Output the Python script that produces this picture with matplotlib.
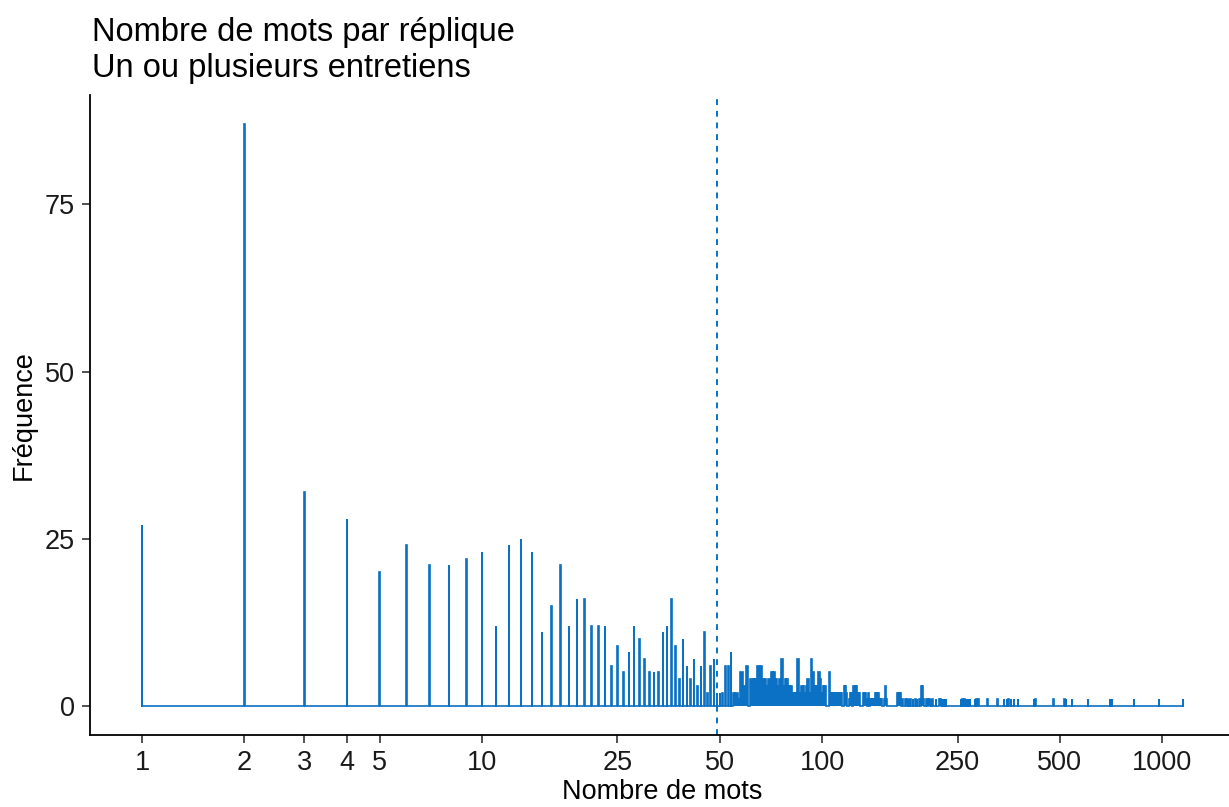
import numpy as np
import matplotlib
matplotlib.use("Agg")
import matplotlib.pyplot as plt

plt.rcParams['font.family'] = ['Liberation Sans', 'DejaVu Sans']

# nombre de mots (valeurs) et fréquence observée
mots = list(range(1, 103)) + [105, 106, 107, 108, 109, 110, 111, 112, 113, 114,
        116, 117, 118, 120, 121, 122, 124, 125, 126, 127, 128, 129, 132, 133, 134,
        135, 137, 139, 140, 141, 142, 143, 144, 145, 146, 147, 148, 149, 152, 153,
        155, 166, 167, 168, 169, 170, 172, 176, 178, 180, 182, 185, 188, 190, 193,
        196, 197, 199, 203, 205, 207, 209, 211, 216, 221, 223, 225, 228, 231, 256,
        259, 262, 265, 268, 272, 281, 284, 288, 306, 328, 343, 349, 353, 359, 366,
        376, 420, 424, 479, 516, 522, 543, 604, 703, 710, 827, 980, 1150]
freq = [27, 87, 32, 28, 20, 24, 21, 21, 22, 23,
        12, 24, 25, 23, 11, 15, 21, 12, 16, 16,
        12, 12, 12, 6, 9, 5, 8, 12, 10, 7,
        5, 5, 5, 11, 12, 16, 9, 4, 10, 6,
        4, 7, 3, 6, 11, 2, 6, 7, 2, 2,
        2, 6, 6, 8, 2, 2, 1, 5, 3, 6,
        0, 4, 4, 4, 6, 6, 4, 4, 3, 4,
        5, 5, 4, 3, 4, 7, 3, 4, 4, 3,
        3, 2, 2, 2, 7, 2, 3, 3, 2, 3,
        4, 2, 7, 5, 3, 3, 3, 5, 4, 2,
        3, 3] + [5, 2, 2, 2, 2, 2, 2, 2, 2, 2,
        3, 3, 2, 1, 2, 2, 3, 3, 3, 2, 2, 2, 2, 2, 2,
        1, 2, 1, 1, 1, 1, 2, 2, 2, 2, 1, 1, 1, 1, 3,
        1, 2, 2, 2, 2, 2, 1, 1, 1, 1, 1, 1, 1, 1, 1,
        3, 3, 1, 1, 1, 1, 1, 1, 1, 1, 1, 1, 1, 1, 1,
        1, 1, 1, 1, 1, 1, 1, 1, 1, 1, 1, 1, 1, 1, 1,
        1, 1, 1, 1, 1, 1, 1, 1, 1, 1, 1, 1, 1]
moyenne = 49

bleu = '#0A71C4'

fig = plt.figure(figsize=(12.29, 8.07), dpi=100)
# left spine at x=90 px, x range runs past the right edge
ax = fig.add_axes([90/1229, 72/807, 1145/1229, 640/807])

# path: narrow step around each value, baseline in between
# (thin spikes for small counts, touching steps where integers crowd together)
xs, ys = [1], [0]
for v, f in zip(mots, freq):
    if f == 0:
        continue
    if v < 55:
        a, b = v / 10 ** 0.0008, v * 10 ** 0.0008
    else:
        a, b = v - 0.5, v + 0.5
    xs += [a, a, b, b]
    ys += [0, f, f, 0]
ax.fill(xs, ys, color=bleu, lw=0)
ax.plot(xs, ys, color=bleu, lw=1.2, solid_joinstyle='miter')

ax.axvline(moyenne, color=bleu, lw=1.4, ls=(0, (3, 3)))

ax.set_xscale('log')
lo, hi = np.log10(1), np.log10(max(mots))
pad = 0.05 * (hi - lo)
ax.set_xlim(10 ** (lo - pad), 10 ** (hi + pad))
ax.set_ylim(-0.05 * 87, 87 * 1.05)

xt = [1, 2, 3, 4, 5, 10, 25, 50, 100, 250, 500, 1000]
ax.set_xticks(xt)
ax.set_xticklabels([str(t) for t in xt])
ax.xaxis.set_minor_locator(matplotlib.ticker.NullLocator())
ax.set_yticks([0, 25, 50, 75])

for s in ['top', 'right']:
    ax.spines[s].set_visible(False)
for s in ['left', 'bottom']:
    ax.spines[s].set_linewidth(1.3)
    ax.spines[s].set_color('black')
ax.tick_params(length=6, width=1.2, colors='#333333', labelsize=19.5, pad=5)
ax.tick_params(labelcolor='#1a1a1a')

ax.set_xlabel('Nombre de mots', fontsize=19.5, labelpad=2)
ax.set_ylabel('Fréquence', fontsize=19.5, labelpad=6)

fig.text(92/1229, 1 - 17/807, 'Nombre de mots par réplique\nUn ou plusieurs entretiens',
         fontsize=23.5, va='top', ha='left', linespacing=1.22)

fig.savefig('out.png', dpi=100)
